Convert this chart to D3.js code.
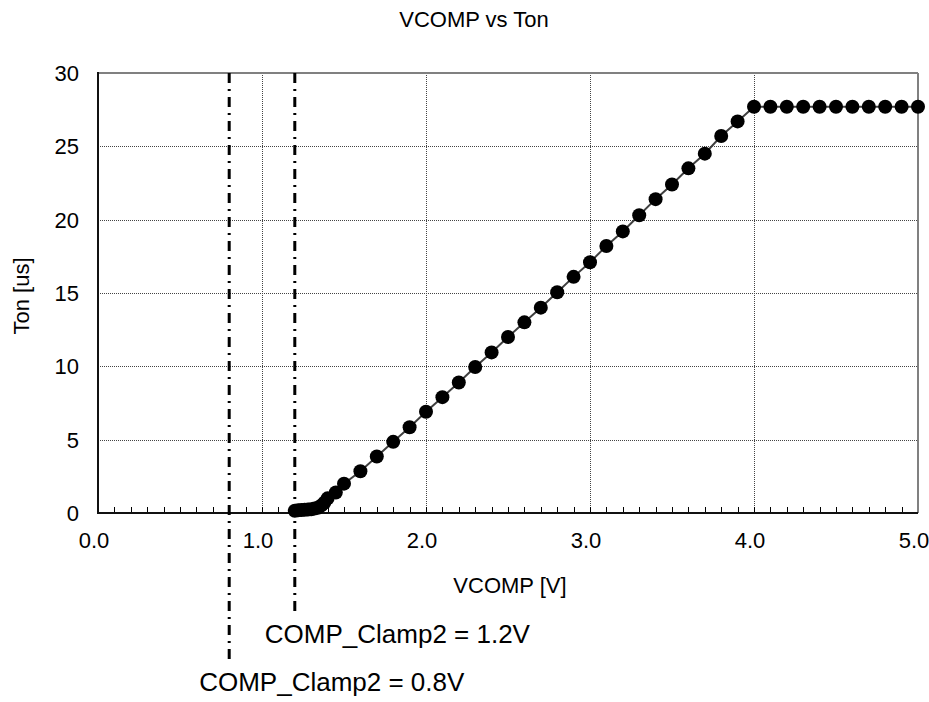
<!DOCTYPE html>
<head>
    <meta charset="utf-8">
    <style>
        body{
            margin:0;
            background:#fff;
        }
        svg text{
            font-family: 'Liberation Sans', Arial, sans-serif;
            fill:#000;
        }
        .grid line{
            stroke:#444;
            stroke-width:1;
            stroke-dasharray:1,1;
            shape-rendering: crispEdges;
        }
        .tick-label{
            font-size:22px;
        }
        .axis-title{
            font-size:22px;
        }
        .clamp-label{
            font-size:26px;
        }
        .series{
            fill:none;
            stroke:#404040;
            stroke-width:2px;
        }
    </style>
</head>
<body>
    <div id="chart"></div>
    <script src="https://d3js.org/d3.v7.min.js"></script>
    <script>
        // values
        var vcomp = [1.20, 1.22, 1.24, 1.26, 1.28, 1.30, 1.32, 1.34, 1.36, 1.38, 1.40, 1.45,
                     1.5, 1.6, 1.7, 1.8, 1.9, 2.0, 2.1, 2.2, 2.3, 2.4, 2.5, 2.6, 2.7, 2.8, 2.9,
                     3.0, 3.1, 3.2, 3.3, 3.4, 3.5, 3.6, 3.7, 3.8, 3.9,
                     4.0, 4.1, 4.2, 4.3, 4.4, 4.5, 4.6, 4.7, 4.8, 4.9, 5.0];
        var ton = [0.15, 0.18, 0.2, 0.22, 0.24, 0.26, 0.3, 0.35, 0.5, 0.7, 1.0, 1.4,
                   2.0, 2.85, 3.85, 4.85, 5.85, 6.9, 7.9, 8.9, 9.95, 10.95, 12.0, 13.0, 14.0, 15.05, 16.1,
                   17.1, 18.2, 19.2, 20.3, 21.4, 22.4, 23.5, 24.5, 25.7, 26.7,
                   27.7, 27.7, 27.7, 27.7, 27.7, 27.7, 27.7, 27.7, 27.7, 27.7, 27.7];

        var xTicks = [0, 1, 2, 3, 4, 5];
        var yTicks = [0, 5, 10, 15, 20, 25, 30];
        var clampVolts = [1.2, 0.8];
        var clampLabels = ["COMP_Clamp2 = 1.2V", "COMP_Clamp2 = 0.8V"];

        var chartTitle = "VCOMP vs Ton";
        var xTitle = "VCOMP [V]";
        var yTitle = "Ton [us]";

        var W = 929, H = 702;
        var margin = {top: 73, right: 11, bottom: 189, left: 98};
        var plotW = W - margin.left - margin.right,
            plotH = H - margin.top - margin.bottom;

        var svg = d3.select("#chart").append("svg")
            .attr("width", W)
            .attr("height", H);

        var g = svg.append("g")
            .attr("transform", "translate(" + margin.left + "," + margin.top + ")");

        var x = d3.scaleLinear().domain([0, 5]).range([0, plotW]);
        var y = d3.scaleLinear().domain([0, 30]).range([plotH, 0]);

        var data = vcomp.map(function(v, i) { return {v: v, t: ton[i]}; });

        // gridlines
        g.append("g")
            .attr("class", "grid")
            .selectAll("line")
            .data(yTicks.slice(1, -1))
            .enter().append("line")
            .attr("x1", 0)
            .attr("x2", plotW)
            .attr("y1", function(d) { return Math.round(y(d)) + 0.5; })
            .attr("y2", function(d) { return Math.round(y(d)) + 0.5; });

        g.append("g")
            .attr("class", "grid")
            .selectAll("line")
            .data(xTicks.slice(1, -1))
            .enter().append("line")
            .attr("y1", 0)
            .attr("y2", plotH)
            .attr("x1", function(d) { return Math.round(x(d)) + 0.5; })
            .attr("x2", function(d) { return Math.round(x(d)) + 0.5; });

        // minor ticks on x axis, pointing inwards
        g.append("g")
            .selectAll("line")
            .data(d3.range(1, 50).map(function(i) { return i / 10; }))
            .enter().append("line")
            .attr("x1", function(d) { return Math.round(x(d)) + 0.5; })
            .attr("x2", function(d) { return Math.round(x(d)) + 0.5; })
            .attr("y1", plotH)
            .attr("y2", plotH - 6)
            .attr("stroke", "#000")
            .attr("stroke-width", 1);

        // frame: grey top/right, black left/bottom
        g.append("line")
            .attr("x1", 0).attr("x2", plotW)
            .attr("y1", 0).attr("y2", 0)
            .attr("stroke", "#808080").attr("stroke-width", 2);
        g.append("line")
            .attr("x1", plotW).attr("x2", plotW)
            .attr("y1", 0).attr("y2", plotH)
            .attr("stroke", "#808080").attr("stroke-width", 2);
        g.append("line")
            .attr("x1", 0).attr("x2", 0)
            .attr("y1", -1).attr("y2", plotH + 1)
            .attr("stroke", "#111").attr("stroke-width", 2);
        g.append("line")
            .attr("x1", -1).attr("x2", plotW)
            .attr("y1", plotH).attr("y2", plotH)
            .attr("stroke", "#111").attr("stroke-width", 2);

        // clamp markers (dash-dot) with labels below the axis
        var clampEnds = [539, 587];
        g.append("g")
            .selectAll("line")
            .data(clampVolts)
            .enter().append("line")
            .attr("x1", function(d) { return x(d); })
            .attr("x2", function(d) { return x(d); })
            .attr("y1", 0)
            .attr("y2", function(d, i) { return clampEnds[i]; })
            .attr("stroke", "#000")
            .attr("stroke-width", 3)
            .attr("stroke-dasharray", "10,6,2,6");

        g.append("g")
            .selectAll("text")
            .data(clampVolts)
            .enter().append("text")
            .attr("class", "clamp-label")
            .attr("x", function(d) { return x(d) - 30; })
            .attr("y", function(d, i) { return clampEnds[i] + 31; })
            .text(function(d, i) { return clampLabels[i]; });

        // series
        var line = d3.line()
            .x(function(d) { return x(d.v); })
            .y(function(d) { return y(d.t); });

        g.append("path")
            .datum(data)
            .attr("class", "series")
            .attr("d", line);

        g.append("g")
            .selectAll("circle")
            .data(data)
            .enter().append("circle")
            .attr("cx", function(d) { return x(d.v); })
            .attr("cy", function(d) { return y(d.t); })
            .attr("r", 7)
            .attr("fill", "#000");

        // tick labels
        g.append("g")
            .selectAll("text")
            .data(xTicks)
            .enter().append("text")
            .attr("class", "tick-label")
            .attr("x", function(d) { return x(d) - 4; })
            .attr("y", plotH + 35)
            .attr("text-anchor", "middle")
            .text(d3.format(".1f"));

        g.append("g")
            .selectAll("text")
            .data(yTicks)
            .enter().append("text")
            .attr("class", "tick-label")
            .attr("x", -19)
            .attr("y", function(d) { return y(d); })
            .attr("dy", "0.36em")
            .attr("text-anchor", "end")
            .text(function(d) { return d; });

        // titles
        svg.append("text")
            .attr("x", 474)
            .attr("y", 27)
            .attr("text-anchor", "middle")
            .attr("class", "axis-title")
            .text(chartTitle);

        svg.append("text")
            .attr("x", margin.left + plotW / 2 + 2)
            .attr("y", 593)
            .attr("text-anchor", "middle")
            .attr("class", "axis-title")
            .text(xTitle);

        svg.append("text")
            .attr("transform", "translate(29," + 296 + ") rotate(-90)")
            .attr("text-anchor", "middle")
            .attr("class", "axis-title")
            .text(yTitle);
    </script>
</body>
